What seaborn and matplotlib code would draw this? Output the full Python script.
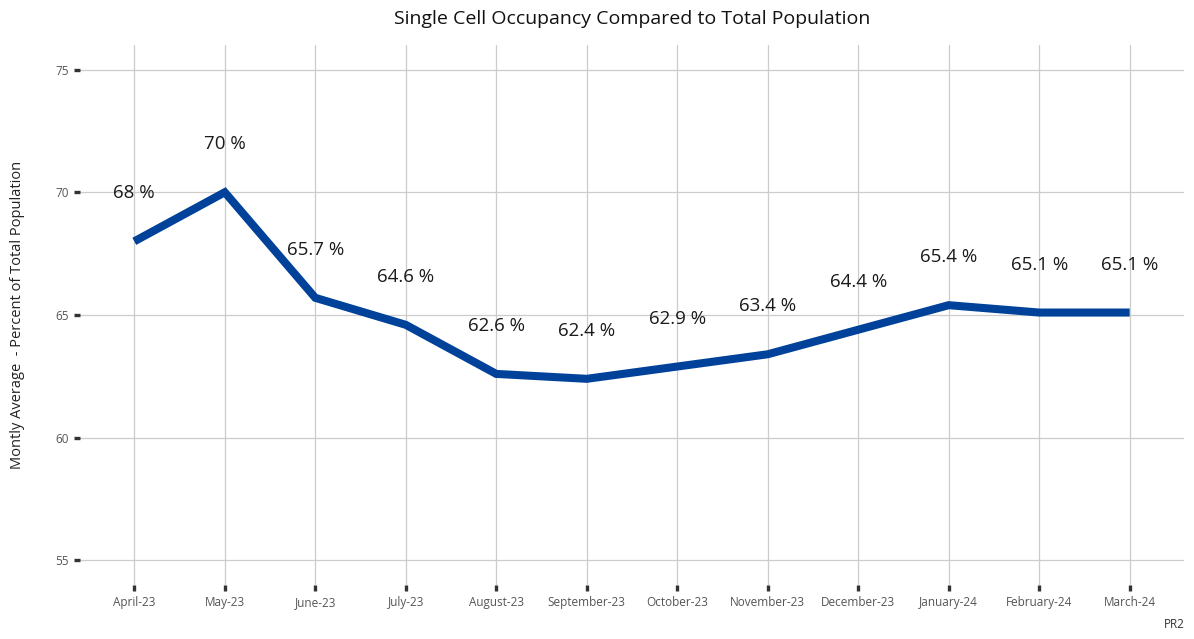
import matplotlib
matplotlib.use("Agg")
import matplotlib.pyplot as plt
import seaborn as sns
import pandas as pd

# Data
months = ["April-23", "May-23", "June-23", "July-23", "August-23", "September-23",
          "October-23", "November-23", "December-23", "January-24", "February-24", "March-24"]
occupancy = [68.0, 70.0, 65.7, 64.6, 62.6, 62.4, 62.9, 63.4, 64.4, 65.4, 65.1, 65.1]
labels = ["68 %", "70 %", "65.7 %", "64.6 %", "62.6 %", "62.4 %",
          "62.9 %", "63.4 %", "64.4 %", "65.4 %", "65.1 %", "65.1 %"]
y_ticks = [55, 60, 65, 70, 75]

df = pd.DataFrame({"month": months, "pct": occupancy})
df["pos"] = range(len(df))

sns.set_style("white")
plt.rcParams["font.family"] = ["Open Sans", "DejaVu Sans"]

fig = plt.figure(figsize=(11.94, 6.39), dpi=100)
ax = fig.add_axes([0.067, 0.0845, 0.9246, 0.8451])

sns.lineplot(data=df, x="pos", y="pct", color="#00419A", linewidth=5.8,
             ax=ax, solid_joinstyle="miter", solid_capstyle="butt")

for i, (v, lab) in enumerate(zip(occupancy, labels)):
    ax.text(i, v + 1.95, lab, ha="center", va="center", fontsize=13.5, color="#1a1a1a")

ax.set_xlim(-0.6, len(months) - 1 + 0.6)
ax.set_ylim(54, 76)
ax.set_xticks(range(len(months)))
ax.set_xticklabels(months, fontsize=8.5, color="#555555")
ax.set_yticks(y_ticks)
ax.set_yticklabels([str(t) for t in y_ticks], fontsize=8.5, color="#555555")

ax.grid(True, color="#cccccc", linewidth=0.9)
ax.set_axisbelow(True)
for s in ax.spines.values():
    s.set_visible(False)
ax.tick_params(axis="both", bottom=True, left=True, length=4, width=2.4,
               color="#333333", pad=4, direction="out")

ax.set_xlabel("")
ax.set_ylabel("Montly Average  - Percent of Total Population", fontsize=10.5, color="#222222", labelpad=22)
ax.set_title("Single Cell Occupancy Compared to Total Population", fontsize=14, color="#111111", pad=15)

fig.text(0.992, 0.012, "PR2", ha="right", va="bottom", fontsize=8.5, color="#333333")

fig.savefig("out.png", dpi=100)
